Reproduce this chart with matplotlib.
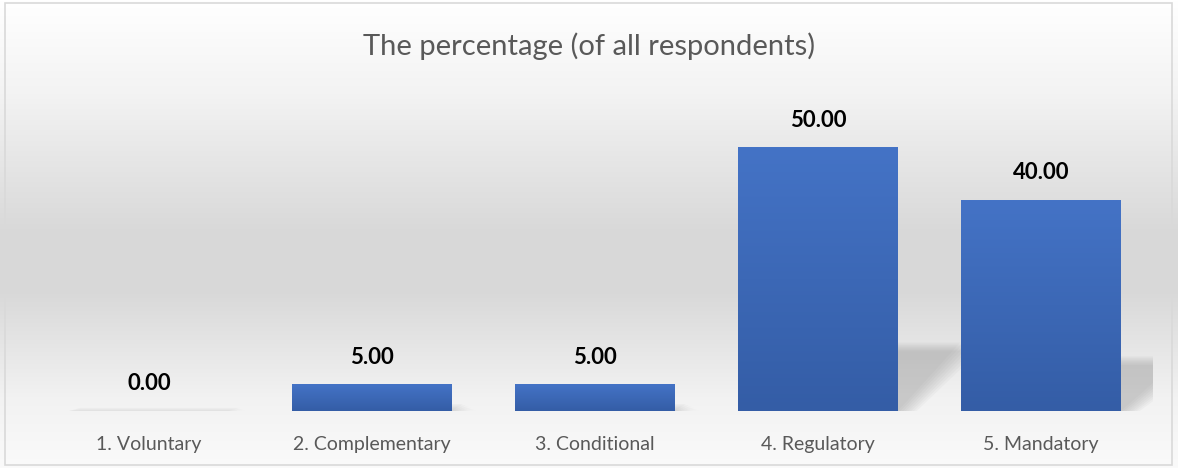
import numpy as np
import matplotlib.pyplot as plt
from matplotlib.patches import Polygon, Rectangle

categories = ["1. Voluntary", "2. Complementary", "3. Conditional", "4. Regulatory", "5. Mandatory"]
values = [0.0, 5.0, 5.0, 50.0, 40.0]
title = "The percentage (of all respondents)"

plt.rcParams["font.family"] = ["Lato", "DejaVu Sans"]

fig = plt.figure(figsize=(11.78, 4.68), dpi=100)

# background gradient (white -> grey -> white)
bg = fig.add_axes([0, 0, 1, 1], zorder=0)
yy = np.linspace(0, 1, 468)
shade = np.interp(yy, [0, 0.2, 0.5, 0.62, 0.85, 1.0], [255, 243, 216, 216, 242, 250]) / 255
bg.imshow(np.tile(shade[:, None, None], (1, 2, 3)), aspect="auto", extent=[0, 1, 0, 1], origin="upper")
bg.set_axis_off()

# border
fig.patches.append(Rectangle((5 / 1178, 3 / 468), 1167 / 1178, 462 / 468, transform=fig.transFigure,
                             fill=False, edgecolor="#d9d9d9", linewidth=1.2, zorder=5))

ax = fig.add_axes([37.5 / 1178, 57 / 468, 1115 / 1178, 316 / 468], zorder=1)
ax.patch.set_alpha(0)
x = np.arange(len(categories))
width = 0.717

top = np.array([68, 115, 198]) / 255
bottom = np.array([52, 93, 166]) / 255
grad = np.linspace(0, 1, 200)[:, None, None]
bar_img = np.tile(top * (1 - grad) + bottom * grad, (1, 2, 1))

for xi, v in zip(x, values):
    x0, x1 = xi - width / 2, xi + width / 2
    # soft perspective shadow
    sh = max(v * 0.26, 0.6)
    s = 0.28 if v > 10 else 0.05
    for k in range(8):
        d = k * 0.012
        poly = Polygon([(x0, 0), (x1 + d, 0), (x1 + s + d, sh - d * 20), (x0 + s, sh - d * 20)],
                       closed=True, facecolor="#8c8c8c", edgecolor="none", alpha=0.06, zorder=1)
        ax.add_patch(poly)
    if v > 0:
        ax.imshow(bar_img, extent=[x0, x1, 0, v], aspect="auto", origin="upper", zorder=2)
    ax.text(xi, v + 3.2, f"{v:.2f}", ha="center", va="bottom", fontsize=16, fontweight="bold", color="black")

ax.set_xlim(-0.5, len(categories) - 0.5)
ax.set_ylim(0, 60)
ax.set_xticks(x)
ax.set_xticklabels(categories, fontsize=14, color="#595959")
ax.tick_params(axis="x", length=0, pad=18)
ax.set_yticks([])
for sp in ax.spines.values():
    sp.set_visible(False)

fig.text(0.5, 1 - 46 / 468, title, ha="center", va="center", fontsize=21, color="#595959")

fig.savefig("out.png", dpi=100)
